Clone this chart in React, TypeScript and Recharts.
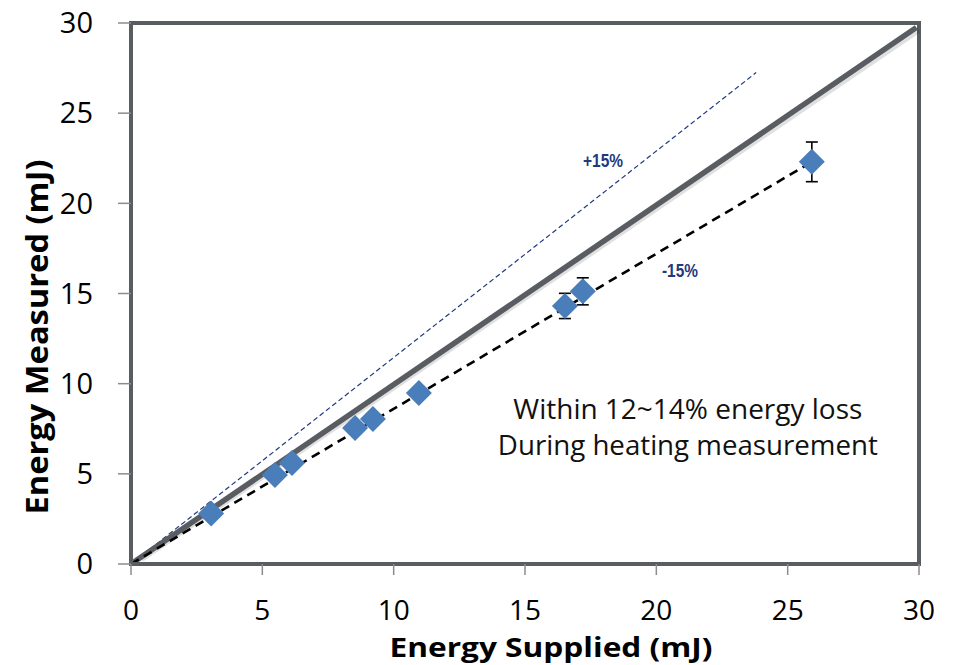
import {
  ScatterChart,
  Scatter,
  XAxis,
  YAxis,
  ErrorBar,
  ReferenceLine,
  ReferenceArea,
  Label,
} from "recharts";

const supplied = [3.05, 5.48, 6.13, 8.53, 9.21, 10.96, 16.52, 17.2, 25.92];
const measured = [2.8, 4.94, 5.6, 7.54, 8.04, 9.48, 14.31, 15.12, 22.3];
const errors = [0.3, 0.3, 0.3, 0.3, 0.3, 0.3, 0.7, 0.75, 1.1];

const axisTicks = [0, 5, 10, 15, 20, 25, 30];

const idealLine = [
  { x: 0, y: 0 },
  { x: 29.9, y: 29.75 },
];
const idealShadow = [
  { x: 0.4, y: 0.28 },
  { x: 30.0, y: 29.63 },
];
const plusLine = [
  { x: 0, y: 0 },
  { x: 23.8, y: 27.25 },
];
const minusLine = [
  { x: 0, y: 0 },
  { x: 25.92, y: 22.3 },
];

const tagTexts = ["+15%", "-15%"];
const tagX = [17.97, 20.9];
const tagY = [22.4, 16.25];

const noteLines = ["Within 12~14% energy loss", "During heating measurement"];
const noteX = [21.2, 21.2];
const noteY = [8.6, 6.6];

const points = supplied.map((x, i) => ({ x, y: measured[i], err: errors[i] }));
const tags = tagTexts.map((text, i) => ({ x: tagX[i], y: tagY[i], text }));
const notes = noteLines.map((text, i) => ({ x: noteX[i], y: noteY[i], text }));
const noteWidths = [349, 380];
const tagWidths = [40, 36];

const FRAME = "#595c61";
const TICK = "#8c8c8c";
const BLUE = "#4a7ebb";
const NAVY = "#1f3a7e";
const FONT = "'Open Sans', sans-serif";

const Diamond = (props: any) => {
  const { cx, cy } = props;
  const r = 13;
  return (
    <polygon
      points={`${cx},${cy - r} ${cx + r},${cy} ${cx},${cy + r} ${cx - r},${cy}`}
      fill={BLUE}
    />
  );
};

const TagText = (props: any) => (
  <text
    x={props.cx}
    y={props.cy}
    textAnchor="middle"
    dominantBaseline="central"
    fontFamily="'Liberation Sans', Arial, sans-serif"
    fontWeight="bold"
    fontSize={19}
    textLength={tagWidths[props.index]}
    lengthAdjust="spacingAndGlyphs"
    fill={NAVY}
  >
    {props.payload.text}
  </text>
);

const NoteText = (props: any) => (
  <text
    x={props.cx}
    y={props.cy}
    textAnchor="middle"
    dominantBaseline="central"
    fontFamily={FONT}
    fontSize={27}
    textLength={noteWidths[props.index]}
    lengthAdjust="spacingAndGlyphs"
    fill="#111"
  >
    {props.payload.text}
  </text>
);

const App = () => {
  return (
    <div style={{ position: "absolute", left: 0, top: 0, background: "#fff" }}>
      <ScatterChart
        width={954}
        height={665}
        margin={{ top: 23, right: 35, bottom: 0, left: 0 }}
      >
        <XAxis
          type="number"
          dataKey="x"
          domain={[0, 30]}
          ticks={axisTicks}
          height={101}
          tickSize={11}
          tickMargin={25}
          axisLine={{ stroke: FRAME, strokeWidth: 4 }}
          tickLine={{ stroke: TICK, strokeWidth: 1.5 }}
          tick={{ fill: "#000", fontSize: 28, fontFamily: FONT }}
        >
          <Label
            content={() => (
              <text
                x={551}
                y={657}
                textAnchor="middle"
                fontFamily={FONT}
                fontWeight="bold"
                fontSize={26}
                textLength={323}
                lengthAdjust="spacingAndGlyphs"
                fill="#000"
              >
                Energy Supplied (mJ)
              </text>
            )}
          />
        </XAxis>
        <YAxis
          type="number"
          dataKey="y"
          domain={[0, 30]}
          ticks={axisTicks}
          width={131}
          tickSize={13}
          tickMargin={25}
          axisLine={{ stroke: FRAME, strokeWidth: 4 }}
          tickLine={{ stroke: TICK, strokeWidth: 1.5 }}
          tick={{ fill: "#000", fontSize: 29, fontFamily: FONT }}
        >
          <Label
            content={() => (
              <text
                x={36}
                y={337}
                transform="rotate(-90 36 337)"
                textAnchor="middle"
                dominantBaseline="central"
                fontFamily={FONT}
                fontWeight="bold"
                fontSize={30}
                textLength={355}
                lengthAdjust="spacingAndGlyphs"
                fill="#000"
              >
                Energy Measured (mJ)
              </text>
            )}
          />
        </YAxis>

        <ReferenceArea
          x1={0}
          x2={30}
          y1={0}
          y2={30}
          fill="none"
          stroke={FRAME}
          strokeWidth={4}
          ifOverflow="visible"
        />

        <Scatter
          data={points}
          shape={<Diamond />}
          isAnimationActive={false}
        >
          <ErrorBar
            dataKey="err"
            direction="y"
            width={6}
            stroke="#000"
            strokeWidth={1.6}
            isAnimationActive={false}
          />
        </Scatter>

        <ReferenceLine
          segment={plusLine}
          stroke={NAVY}
          strokeWidth={1.2}
          strokeDasharray="5 3"
          ifOverflow="visible"
        />
        <ReferenceLine
          segment={idealShadow}
          stroke="#000"
          strokeOpacity={0.12}
          strokeWidth={6}
          ifOverflow="visible"
        />
        <ReferenceLine
          segment={idealLine}
          stroke={FRAME}
          strokeWidth={5.5}
          ifOverflow="visible"
        />
        <ReferenceLine
          segment={minusLine}
          stroke="#000"
          strokeWidth={2.6}
          strokeDasharray="9 6"
          ifOverflow="visible"
        />

        <Scatter data={tags} shape={<TagText />} isAnimationActive={false} />
        <Scatter data={notes} shape={<NoteText />} isAnimationActive={false} />
      </ScatterChart>
    </div>
  );
};

export default App;
